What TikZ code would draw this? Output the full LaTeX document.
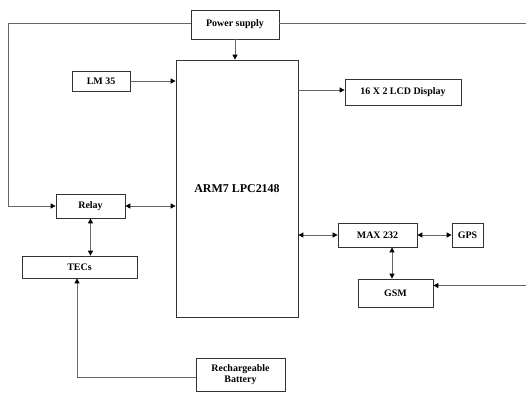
\documentclass[tikz,border=0pt]{standalone}
\usepackage{fontspec}
\setmainfont{Liberation Serif}
\usetikzlibrary{arrows.meta}
\begin{document}
\begin{tikzpicture}[x=1bp,y=-1bp,
  box/.style={draw=black!80, line width=0.8bp, fill=white, inner sep=0pt, font=\fontsize{10}{11}\selectfont\bfseries, align=center},
  conn/.style={draw=black!60, line width=1bp},
  arr/.style={conn, -{Triangle[length=5bp,width=5bp,color=black,fill=black]}},
  darr/.style={conn, {Triangle[length=5bp,width=5bp,color=black,fill=black]}-{Triangle[length=5bp,width=5bp,color=black,fill=black]}}]
\useasboundingbox[fill=white] (0,0) rectangle (526,392);
\node[box, minimum width=88bp, minimum height=29bp] (ps) at (235,24.5) {Power supply};
\node[box, minimum width=122bp, minimum height=257bp, font=\fontsize{12}{14}\selectfont\bfseries] (arm) at (237,188.5) {ARM7 LPC2148};
\node[box, minimum width=58bp, minimum height=20bp] (lm) at (101,81) {LM 35};
\node[box, minimum width=116bp, minimum height=26bp] (lcd) at (403,92) {16 X 2 LCD Display};
\node[box, minimum width=69bp, minimum height=24bp] (relay) at (90.5,206) {Relay};
\node[box, minimum width=115bp, minimum height=22bp] (tec) at (79.5,267) {TECs};
\node[box, minimum width=89bp, minimum height=33bp] (bat) at (240.5,374.5) {Rechargeable\\Battery};
\node[box, minimum width=79bp, minimum height=24bp] (max) at (377.5,235) {MAX 232};
\node[box, minimum width=31bp, minimum height=24bp] (gps) at (467.5,235) {GPS};
\node[box, minimum width=75bp, minimum height=28bp] (gsm) at (395.5,293) {GSM};
\coordinate (lt) at (8,23.5);
\coordinate (rt) at (527,23.5);
\coordinate (rb) at (527,285.5);
\coordinate (bl) at (77,377);
\draw[arr] (ps.west |- lt) -- (lt) |- (relay.west);
\draw[arr] (ps.east |- rt) -- (rt) -- (rb) -- (gsm.east |- rb);
\draw[arr] (ps.south) -- (arm.north -| ps.south);
\draw[arr] (lm.east) -- (arm.west |- lm.east);
\draw[arr] (arm.east |- 0,90) -- (lcd.west |- 0,90);
\draw[darr] (relay.east) -- (arm.west |- relay.east);
\draw[darr] (relay.south) -- (tec.north -| relay.south);
\draw[arr] (bat.west |- bl) -- (bl) -- (tec.south -| bl);
\draw[darr] (arm.east |- max.west) -- (max.west);
\draw[darr] (max.east) -- (gps.west);
\draw[darr] (max.south -| 392,0) -- (gsm.north -| 392,0);
\end{tikzpicture}
\end{document}
